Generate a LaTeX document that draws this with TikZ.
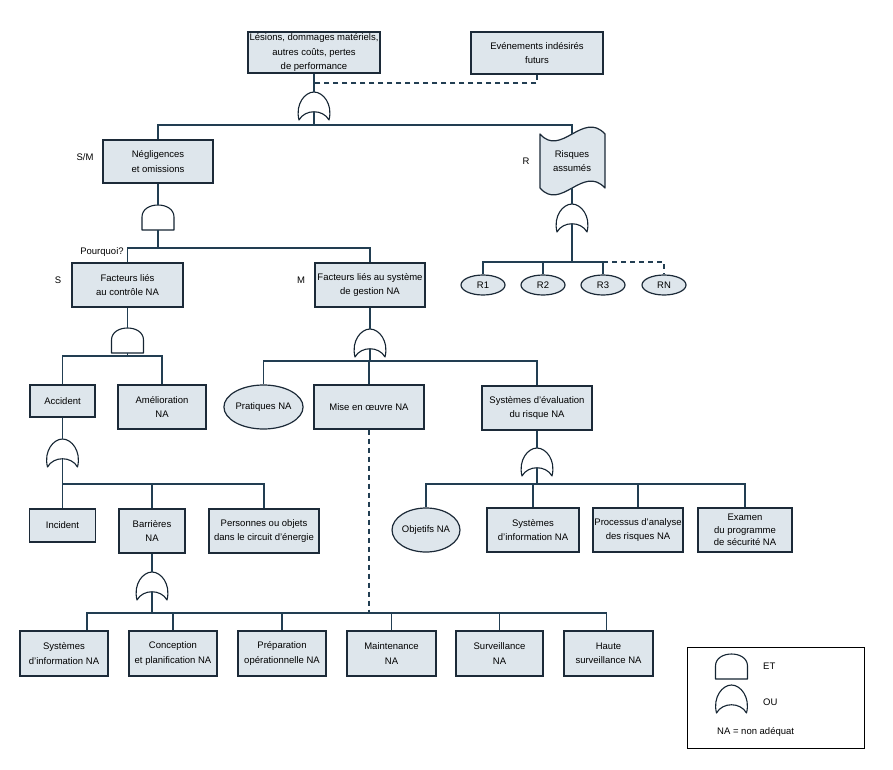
\documentclass[tikz,border=0pt]{standalone}
\usepackage{fontspec}
\setmainfont{Liberation Sans}
\usetikzlibrary{shapes.geometric,calc}
\definecolor{boxfill}{RGB}{222,230,236}
\definecolor{boxline}{RGB}{28,42,56}
\definecolor{wirecol}{RGB}{34,62,82}
\definecolor{gatecol}{RGB}{20,36,50}
\tikzset{
  txt/.style={font=\fontsize{9.5}{14.5}\selectfont, align=center},
  box/.style={txt, draw=boxline, fill=boxfill, line width=1.2pt, inner sep=1pt},
  bx/.style 2 args={box, minimum width=#1, minimum height=#2},
  ell/.style 2 args={box, ellipse, inner sep=0pt, minimum width=#1, minimum height=#2},
  wire/.style={draw=wirecol, line width=1.2pt},
  dwire/.style={wire, dash pattern=on 5pt off 4pt},
  gate/.style={draw=gatecol, fill=white, line width=1.1pt, line join=round},
  lbl/.style={txt, inner sep=0pt},
  andg/.pic={
    \draw[gate] (-16,25) -- (-16,12) .. controls (-16,-4) and (16,-4) .. (16,12) -- (16,25) -- cycle;
    \coordinate (-t) at (0,0);
    \coordinate (-b) at (0,25);
  },
  org/.pic={
    \draw[gate] (-15,28) .. controls (-19,12) and (-9,0) .. (0,0) .. controls (9,0) and (19,12) .. (15,28) .. controls (9,17) and (-9,17) .. (-15,28) -- cycle;
    \coordinate (-t) at (0,0);
    \coordinate (-b) at (0,20);
  }
}
\begin{document}
\begin{tikzpicture}[x=1pt,y=-1pt]
\useasboundingbox (0,0) rectangle (893,770);

% ---------------- top level
\node[bx={132pt}{41pt}] (top) at (314,52.5) {Lésions, dommages matériels,\\autres coûts, pertes\\de performance};
\node[bx={132pt}{42pt}] (evt) at (537,53) {Evénements indésirés\\futurs};
\coordinate (dj) at (314,83);
\draw[dwire] (evt.south) |- (dj);

\pic (g1) at (314,92) {org};
\draw[wire] (top.south) -- (g1-t);
\coordinate (b1) at (0,125);

\node[bx={110pt}{43pt}] (neg) at (158,161.5) {Négligences\\et omissions};
\node[lbl] (lsm) at (85,157) {S/M};

% Risques assumés (tape shape)
\node[txt, minimum width=65pt, minimum height=54pt, inner sep=0pt] (ra) at (572,161) {};
\path[draw=boxline, fill=boxfill, line width=1.2pt, line join=round]
  (540,134) .. controls (561,158) and (583,110) .. (605,134)
  -- (605,188) .. controls (583,164) and (561,212) .. (540,188) -- cycle;
\node[txt] (ratext) at (ra.center) {Risques\\assumés};
\node[lbl] (lr) at (526,161) {R};

\draw[wire] (g1-b) -- (g1-b |- b1) -| (neg.north);
\draw[wire] (g1-b |- b1) -| (ra.north);

% ---------------- risques branch
\pic (g8) at (572,204) {org};
\draw[wire] (ra.south) -- (g8-t);
\coordinate (b8) at (0,262);
\node[ell={44pt}{20pt}] (r1) at (483,285) {R1};
\node[ell={44pt}{20pt}] (r2) at (543,285) {R2};
\node[ell={44pt}{20pt}] (r3) at (603,285) {R3};
\node[ell={44pt}{20pt}] (rn) at (664,285) {RN};
\draw[wire] (g8-b) -- (g8-b |- b8) -| (r1.north);
\draw[wire] (g8-b |- b8) -| (r2.north);
\draw[wire] (g8-b |- b8) -| (r3.north);
\draw[dwire] (r3.north |- b8) -| (rn.north);

% ---------------- négligences branch
\pic (g2) at (158,205) {andg};
\draw[wire] (neg.south) -- (g2-t);
\coordinate (b2) at (0,248);
\node[bx={111pt}{44pt}] (fc) at (127.5,285) {Facteurs liés\\au contrôle NA};
\node[bx={110pt}{44pt}] (fg) at (370,285) {Facteurs liés au système\\de gestion NA};
\node[lbl] (lpq) at (102,252) {Pourquoi?};
\node[lbl] (ls) at (58,280) {S};
\node[lbl] (lm) at (301,280) {M};
\draw[wire] (g2-b) -- (g2-b |- b2) -| (fc.north);
\draw[wire] (g2-b |- b2) -| (fg.north);

% ---------------- contrôle branch
\pic (g3) at (127.5,328) {andg};
\draw[wire] (fc.south) -- (g3-t);
\coordinate (b3) at (0,356);
\node[bx={65pt}{32pt}] (acc) at (62.5,401) {Accident};
\node[bx={88pt}{44pt}] (ame) at (162,407) {Amélioration\\NA};
\draw[wire] (g3-b) -- (g3-b |- b3) -| (acc.north);
\draw[wire] (g3-b |- b3) -| (ame.north);

% ---------------- gestion branch
\pic (g4) at (370,329) {org};
\draw[wire] (fg.south) -- (g4-t);
\coordinate (b4) at (0,361);
\node[ell={67pt}{44pt}] (prat) at (263.5,407) {Pratiques NA};
\node[bx={110pt}{44pt}] (mise) at (369,407) {Mise en œuvre NA};
\node[bx={110pt}{44pt}] (sev) at (537,408) {Systèmes d'évaluation\\du risque NA};
\draw[wire] (g4-b) -- (g4-b |- b4) -| (prat.north);
\draw[wire] (g4-b |- b4) -| (mise.north);
\draw[wire] (g4-b |- b4) -| (sev.north);

% ---------------- accident branch
\pic (g5) at (62.5,439) {org};
\draw[wire] (acc.south) -- (g5-t);
\coordinate (b5) at (0,484);
\node[bx={66pt}{33pt}] (inc) at (62.5,525.5) {Incident};
\node[bx={66pt}{44pt}] (bar) at (152,531) {Barrières\\NA};
\node[bx={110pt}{44pt}] (pers) at (264,531) {Personnes ou objets\\dans le circuit d'énergie};
\draw[wire] (g5-b) -- (inc.north);
\draw[wire] (g5-b |- b5) -| (bar.north);
\draw[wire] (g5-b |- b5) -| (pers.north);

% ---------------- évaluation branch
\pic (g6) at (537,448) {org};
\draw[wire] (sev.south) -- (g6-t);
\node[ell={66pt}{44pt}] (obj) at (426,530) {Objetifs NA};
\node[bx={92pt}{44pt}] (si2) at (533,530) {Systèmes\\d'information NA};
\node[bx={90pt}{44pt}] (proc) at (638,530) {Processus d'analyse\\des risques NA};
\node[bx={94pt}{44pt}, font=\fontsize{9.5}{12.5}\selectfont] (exa) at (745,530) {Examen\\du programme\\de sécurité NA};
\draw[wire] (g6-b) -- (g6-b |- b5) -| (obj.north);
\draw[wire] (g6-b |- b5) -| (si2.north);
\draw[wire] (g6-b |- b5) -| (proc.north);
\draw[wire] (g6-b |- b5) -| (exa.north);

% ---------------- barrières branch
\pic (g7) at (152,572) {org};
\draw[wire] (bar.south) -- (g7-t);
\coordinate (b7) at (0,613);
\node[bx={88pt}{45pt}] (si1) at (64,653.5) {Systèmes\\d'information NA};
\node[bx={88pt}{45pt}] (con) at (173,653.5) {Conception\\et planification NA};
\node[bx={88pt}{45pt}] (prep) at (282,653.5) {Préparation\\opérationnelle NA};
\node[bx={89pt}{45pt}] (maint) at (391.5,653.5) {Maintenance\\NA};
\node[bx={87pt}{45pt}] (surv) at (499.5,653.5) {Surveillance\\NA};
\node[bx={89pt}{45pt}] (haute) at (608.5,653.5) {Haute\\surveillance NA};
\draw[wire] (g7-b) -- (g7-b |- b7) -| ([xshift=23pt]si1.north);
\draw[wire] (g7-b |- b7) -| (con.north);
\draw[wire] (g7-b |- b7) -| (prep.north);
\draw[wire] (g7-b |- b7) -| (maint.north);
\draw[wire] (g7-b |- b7) -| (surv.north);
\draw[wire] (g7-b |- b7) -| ([xshift=-2pt]haute.north);
\draw[dwire] (mise.south) -- (mise.south |- b7);

% ---------------- legend
\node[draw=black, line width=0.9pt, minimum width=177pt, minimum height=101pt, inner sep=0pt] (leg) at (775.5,697.5) {};
\pic (lg1) at (731.5,654) {andg};
\pic (lg2) at (731.5,685) {org};
\node[lbl, anchor=west] (let) at (763,666) {ET};
\node[lbl, anchor=west] (lou) at (763,702) {OU};
\node[lbl, anchor=west] (lna) at (717,732) {NA = non adéquat};
\end{tikzpicture}
\end{document}
